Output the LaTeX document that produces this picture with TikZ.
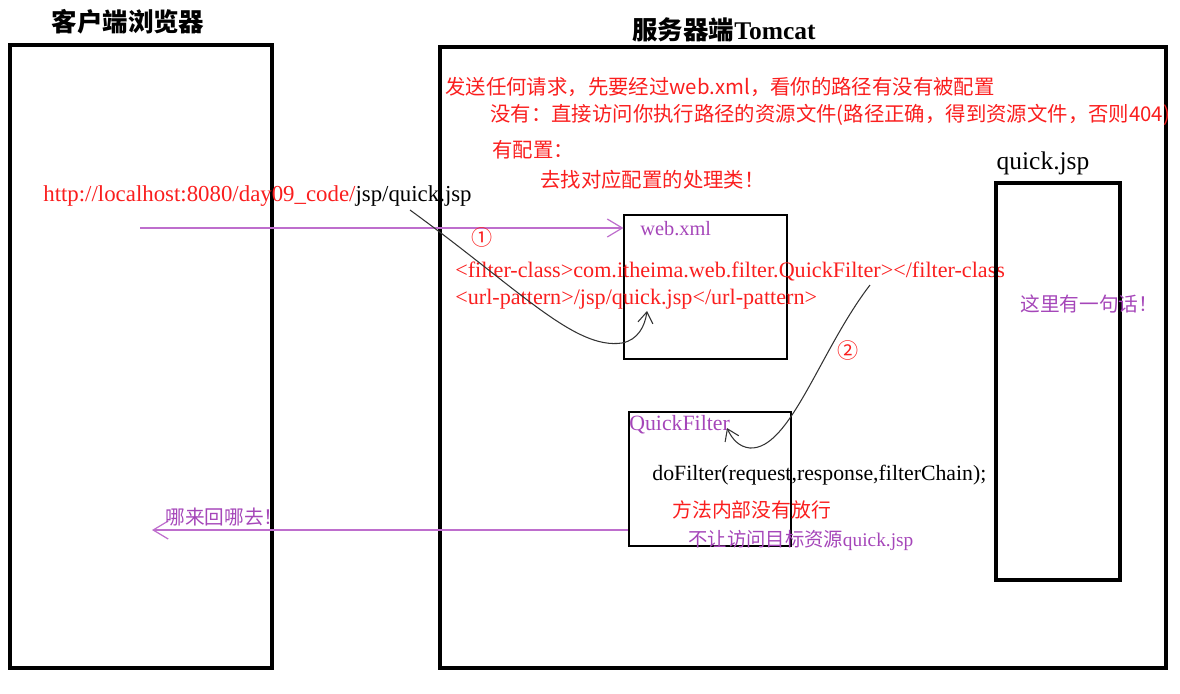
\documentclass[tikz,border=0pt]{standalone}
\usepackage{fontspec}
\setmainfont{Liberation Serif}
\newfontfamily\cjk{Noto Sans CJK SC}
\newfontfamily\cjkb{Noto Sans CJK SC Bold}
\usetikzlibrary{arrows.meta}
\definecolor{noteRed}{RGB}{250,30,30}
\definecolor{notePurple}{RGB}{165,70,185}
\definecolor{flowPurple}{RGB}{190,110,205}

\begin{document}
\begin{tikzpicture}[x=0.2mm, y=-0.2mm,
  frame/.style={draw, line width=2.6pt},
  part/.style={draw, line width=0.6pt},
  title/.style={font=\fontsize{14.5pt}{16pt}\selectfont\bfseries},
  note/.style={anchor=west, inner sep=0pt, text=noteRed, font=\fontsize{11.6pt}{14pt}\cjk},
  code/.style={anchor=west, inner sep=0pt, text=noteRed, font=\fontsize{12.6pt}{14pt}\selectfont},
  hint/.style={anchor=west, inner sep=0pt, text=notePurple, font=\fontsize{11.2pt}{13pt}\cjk},
  flow/.style={draw=flowPurple, line width=0.7pt, -{Straight Barb[length=3mm, width=3.6mm]}},
  hop/.style={draw=black!80, line width=0.6pt, -{Straight Barb[length=2.2mm, width=3mm]}},
  num/.style={text=noteRed, font=\fontsize{12pt}{14pt}\cjk}
]
  \useasboundingbox (0,0) rectangle (1180,693);

  % the two sides
  \node[title] (browsertitle) at (128,22) {\cjkb 客户端浏览器};
  \draw[frame] (10,45) rectangle (272,668);
  \node[title] (servertitle) at (724,30) {{\cjkb 服务器端}Tomcat};
  \draw[frame] (440,47) rectangle (1166,668);

  % rules of web.xml
  \node[note] (rule) at (445,87) {发送任何请求，先要经过web.xml，看你的路径有没有被配置};
  \node[note] (nomap) at (490,115) {没有：直接访问你执行路径的资源文件(路径正确，得到资源文件，否则404)};
  \node[note] (mapped) at (492,150) {有配置：};
  \node[note] (handler) at (540,180) {去找对应配置的处理类！};

  % request
  \node[anchor=west, inner sep=0pt, font=\fontsize{13pt}{15pt}\selectfont] (url) at (43,196)
    {\textcolor{noteRed}{http://localhost:8080/day09\_code/}jsp/quick.jsp};
  \coordinate (req) at (140,228);
  \node[part, minimum width=32.6mm, minimum height=28.8mm] (webxml) at (705.5,287) {};
  \node[anchor=west, inner sep=0pt, text=notePurple, font=\fontsize{11.6pt}{13pt}\selectfont] (webxmllabel) at (640,229) {web.xml};
  \draw[flow] (req) -- (webxml.west |- req);
  \node[num] (one) at (482,237) {①};

  \node[code] (filterclass) at (455,271) {<filter-class>com.itheima.web.filter.QuickFilter></filter-class};
  \node[code] (urlpattern) at (455,299) {<url-pattern>/jsp/quick.jsp</url-pattern>};

  \coordinate (path) at (410,210);
  \coordinate (match) at (647,311);
  \draw[hop] (path) .. controls (520,290) and (575,350) .. (622,343)
    .. controls (638,340) and (645,326) .. (match);

  % filter
  \node[part, minimum width=32.4mm, minimum height=26.8mm] (filter) at (710,479) {};
  \node[anchor=west, inner sep=0pt, text=notePurple, font=\fontsize{12.4pt}{14pt}\selectfont] (filterlabel) at (629,425) {QuickFilter};
  \coordinate (class) at (870,285);
  \draw[hop] (class) .. controls (820,350) and (790,450) .. (750,448)
    .. controls (739,447) and (732,439) .. (727,428);
  \node[num] (two) at (848,350) {②};

  \node[anchor=west, inner sep=0pt, font=\fontsize{12.4pt}{14pt}\selectfont] (dofilter) at (652,475) {doFilter(request,response,filterChain);};
  \node[note, font=\fontsize{11.3pt}{13pt}\cjk] (nopass) at (672,510) {方法内部没有放行};
  \node[hint, font=\fontsize{11pt}{13pt}\cjk] (blocked) at (688,540) {不让访问目标资源\rmfamily quick.jsp};

  % response
  \coordinate (back) at (152,530);
  \draw[flow] (filter.west |- back) -- (back);
  \node[hint] (backtext) at (165,517) {哪来回哪去！};

  % target resource
  \node[font=\fontsize{14.5pt}{16pt}\selectfont] (jsplabel) at (1043,163) {quick.jsp};
  \draw[draw, line width=2.2pt] (996,183) rectangle (1120,580);
  \node[hint] (jsptext) at (1020,304) {这里有一句话！};
\end{tikzpicture}
\end{document}
